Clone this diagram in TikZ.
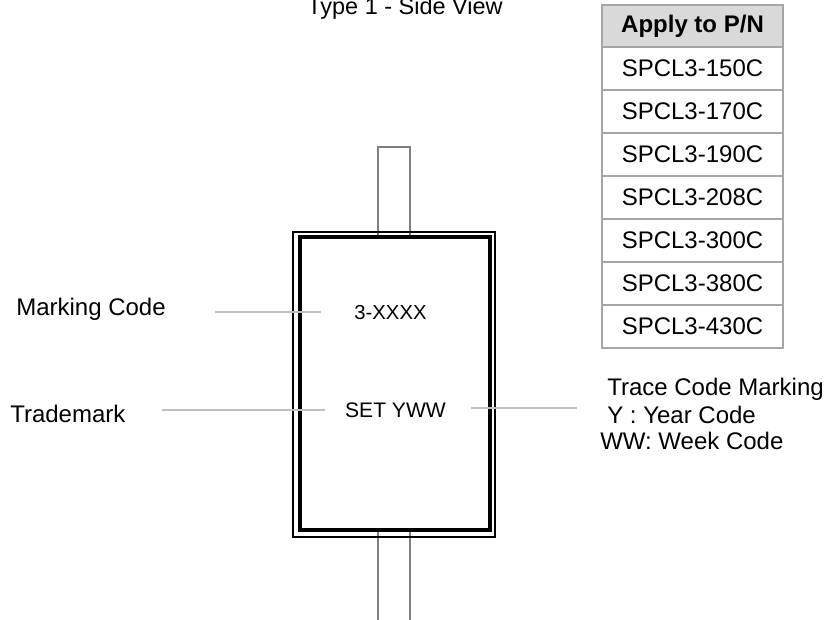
\documentclass[tikz,border=0pt]{standalone}
\usepackage{fontspec}
\setmainfont{Liberation Sans}
\definecolor{rulegray}{HTML}{A6A6A6}
\definecolor{headgray}{HTML}{D9D9D9}
\definecolor{leadgray}{HTML}{7F7F7F}
\definecolor{callgray}{HTML}{BFBFBF}
\tikzset{
  lbl/.style={inner sep=0pt, font=\fontsize{18}{21}\selectfont},
  small/.style={inner sep=0pt, font=\fontsize{15.2}{18}\selectfont},
  cell/.style={draw=rulegray, line width=1.1pt, outer sep=0pt, minimum width=135.75pt, minimum height=32.25pt, inner sep=0pt, font=\fontsize{18}{21}\selectfont},
  call/.style={draw=callgray, line width=1.5pt},
  lead/.style={draw=leadgray, line width=0.9pt}
}
\begin{document}
\begin{tikzpicture}[x=0.75pt,y=-0.75pt]
	\useasboundingbox (0,0) rectangle (824,620);
	\node[lbl, anchor=base, font=\fontsize{17.6}{21}\selectfont] (T0) at (405,14.5) {Type 1 - Side View};
	\draw[lead] (378,235) -- (378,147) -- (410,147) -- (410,235);
	\draw[lead] (378,530) -- (378,620);
	\draw[lead] (410,530) -- (410,620);
	\draw[line width=0.9pt] (293,232) rectangle (495,537);
	\draw[line width=3pt] (299.5,237) rectangle (489.5,530);
	\node[cell, fill=headgray, anchor=north west, minimum height=31.5pt, font=\fontsize{18}{21}\selectfont\bfseries] (R0) at (602,5) {Apply to P/N};
	\node[cell, anchor=north] (R1) at (R0.south) {SPCL3-150C};
	\node[cell, anchor=north] (R2) at (R1.south) {SPCL3-170C};
	\node[cell, anchor=north] (R3) at (R2.south) {SPCL3-190C};
	\node[cell, anchor=north] (R4) at (R3.south) {SPCL3-208C};
	\node[cell, anchor=north] (R5) at (R4.south) {SPCL3-300C};
	\node[cell, anchor=north] (R6) at (R5.south) {SPCL3-380C};
	\node[cell, anchor=north] (R7) at (R6.south) {SPCL3-430C};
	\node[small, inner xsep=25pt] (C1) at (390.5,313) {3-XXXX};
	\node[inner sep=0pt, inner xsep=15pt, font=\fontsize{15.8}{18}\selectfont] (C2) at (395.5,410) {SET YWW};
	\node[lbl, anchor=west] (L1) at (16,309) {Marking Code};
	\node[lbl, anchor=west] (L2) at (10,414) {Trademark};
	\node[lbl, anchor=west] (L3) at (607,389) {Trace Code Marking};
	\node[lbl, anchor=west] (L4) at (607,415) {Y : Year Code};
	\node[lbl, anchor=west] (L5) at (600,441) {WW: Week Code};
	\coordinate (P1) at (215,312);
	\coordinate (P2) at (162,410);
	\coordinate (P3) at (577,408);
	\draw[call] (P1) -- (C1.west |- P1);
	\draw[call] (P2) -- (C2.west |- P2);
	\draw[call, shorten <=3.75pt] (C2.east |- P3) -- (P3);
\end{tikzpicture}
\end{document}
